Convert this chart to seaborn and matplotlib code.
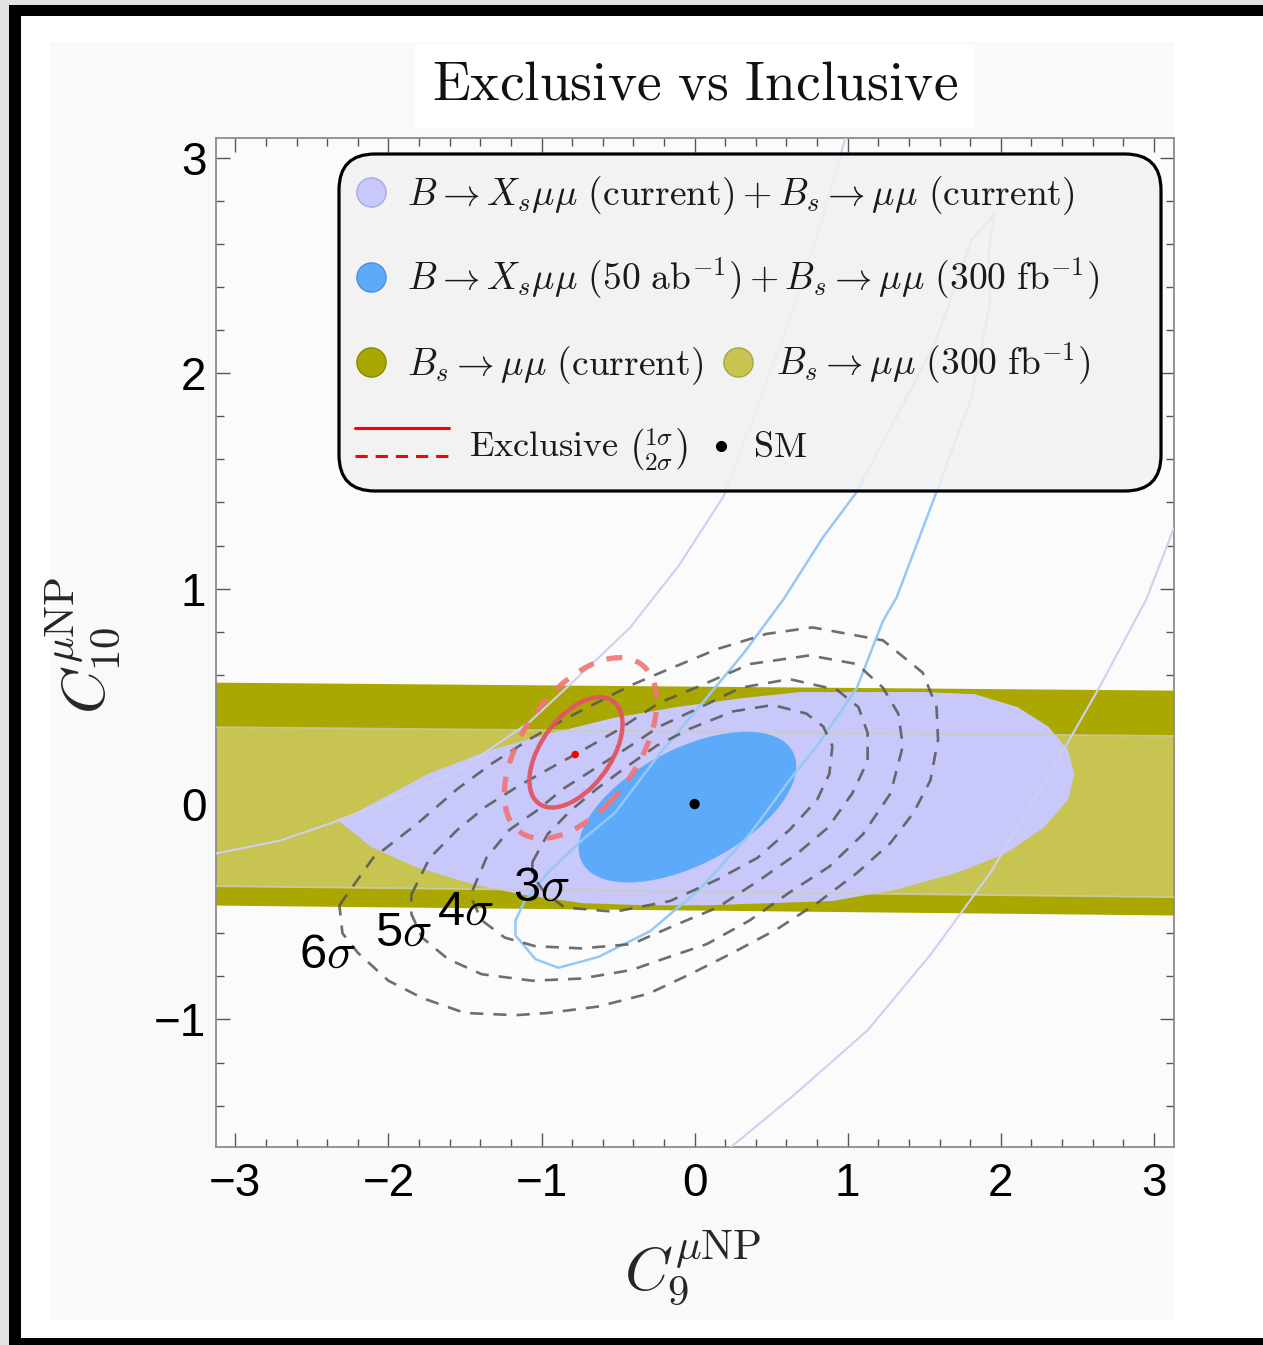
import matplotlib
matplotlib.use("Agg")
import matplotlib.pyplot as plt
import seaborn as sns
import pandas as pd
from matplotlib.patches import Ellipse, Rectangle, FancyBboxPatch
from matplotlib.ticker import MultipleLocator

# ------------------------------------------------------------------ data
x_span = [-3.13, 3.13]
bs_current_upper = [0.566, 0.529]
bs_current_lower = [-0.469, -0.515]
bs_300_upper = [0.357, 0.316]
bs_300_lower = [-0.381, -0.432]

incl_current_x = [-2.34, -2.11, -1.83, -1.46, -1.13, -0.73, -0.32, 0.08, 0.49, 0.90,
                  1.30, 1.71, 2.03, 2.28, 2.44, 2.48, 2.44, 2.31, 2.11, 1.83,
                  1.50, 0.90, 0.69, 0.29, -0.12, -0.53, -0.93, -1.34, -1.74, -2.03, -2.27]
incl_current_y = [-0.07, -0.20, -0.29, -0.37, -0.42, -0.46, -0.47, -0.47, -0.46, -0.45,
                  -0.40, -0.32, -0.23, -0.11, 0.02, 0.14, 0.25, 0.36, 0.45, 0.51,
                  0.52, 0.52, 0.52, 0.49, 0.45, 0.40, 0.33, 0.25, 0.14, 0.03, -0.06]

future_center = (-0.047, -0.014)
future_axes = (1.48, 0.564)
future_angle = 17.6

excl_best = (-0.78, 0.23)
excl_1s_center = (-0.775, 0.24)
excl_1s_axes = (0.696, 0.384)
excl_2s_center = (-0.745, 0.26)
excl_2s_axes = (1.14, 0.63)
excl_angle = 35.7

sm_point = (0.0, 0.0)

sig3_x = [-1.06, -0.96, -0.81, -0.64, -0.47, -0.25, -0.03, 0.25, 0.51, 0.73, 0.84,
          0.90, 0.88, 0.80, 0.62, 0.41, 0.15, -0.16, -0.52, -0.85, -0.98, -1.06]
sig3_y = [-0.27, -0.14, -0.03, 0.07, 0.16, 0.27, 0.35, 0.43, 0.46, 0.42, 0.36,
          0.27, 0.14, 0.02, -0.12, -0.25, -0.35, -0.45, -0.50, -0.48, -0.41, -0.33]
sig4_x = [-1.45, -1.36, -1.21, -1.03, -0.86, -0.64, -0.42, -0.23, 0.04, 0.30,
          0.62, 0.93, 1.07, 1.13, 1.13, 1.03, 0.87, 0.67, 0.43, 0.15,
          -0.12, -0.41, -0.74, -1.04, -1.24, -1.39, -1.45]
sig4_y = [-0.40, -0.25, -0.12, -0.03, 0.07, 0.17, 0.27, 0.36, 0.45, 0.54,
          0.58, 0.53, 0.45, 0.33, 0.20, 0.05, -0.11, -0.23, -0.35, -0.48,
          -0.56, -0.65, -0.67, -0.66, -0.62, -0.54, -0.45]
sig5_x = [-1.85, -1.73, -1.55, -1.36, -1.16, -0.96, -0.73, -0.51, -0.23, 0.04,
          0.36, 0.75, 1.06, 1.23, 1.33, 1.36, 1.28, 1.10, 0.88, 0.62,
          0.36, 0.08, -0.25, -0.41, -0.74, -1.06, -1.39, -1.61, -1.78, -1.85]
sig5_y = [-0.42, -0.25, -0.12, -0.01, 0.08, 0.16, 0.25, 0.34, 0.47, 0.55,
          0.65, 0.69, 0.65, 0.54, 0.42, 0.27, 0.05, -0.14, -0.29, -0.41,
          -0.54, -0.65, -0.73, -0.77, -0.81, -0.82, -0.79, -0.72, -0.62, -0.51]
sig6_x = [-2.32, -2.10, -1.81, -1.55, -1.32, -1.08, -0.86, -0.64, -0.42, -0.19,
          0.15, 0.47, 0.77, 1.23, 1.49, 1.58, 1.59, 1.54, 1.43, 1.28,
          1.06, 0.80, 0.54, 0.25, -0.03, -0.30, -0.63, -0.96, -1.17, -1.50,
          -1.78, -2.00, -2.20, -2.30]
sig6_y = [-0.47, -0.25, -0.09, 0.07, 0.19, 0.30, 0.39, 0.47, 0.55, 0.62,
          0.72, 0.79, 0.82, 0.76, 0.61, 0.45, 0.30, 0.11, -0.04, -0.18,
          -0.32, -0.46, -0.58, -0.69, -0.79, -0.88, -0.94, -0.97, -0.98, -0.97,
          -0.90, -0.82, -0.69, -0.60]
sigma_names = ["3σ", "4σ", "5σ", "6σ"]
sigma_label_text = [r"3$\sigma$", r"4$\sigma$", r"5$\sigma$", r"6$\sigma$"]
sigma_label_x = [-1.00, -1.50, -1.90, -2.40]
sigma_label_y = [-0.39, -0.50, -0.60, -0.70]

incl_cur_line_a_x = [-3.13, -2.71, -2.34, -1.92, -1.51, -1.08, -0.73, -0.42, -0.10,
                     0.19, 0.43, 0.67, 0.85, 0.98, 1.00]
incl_cur_line_a_y = [-0.23, -0.17, -0.08, 0.04, 0.17, 0.38, 0.61, 0.82, 1.11,
                     1.43, 1.88, 2.35, 2.76, 3.08, 3.15]
incl_cur_line_b_x = [0.19, 0.65, 1.13, 1.54, 1.93, 2.32, 2.65, 2.95, 3.13]
incl_cur_line_b_y = [-1.62, -1.35, -1.05, -0.70, -0.32, 0.14, 0.55, 0.95, 1.28]

incl_fut_line_x = [-1.17, -1.11, -0.96, -0.74, -0.52, -0.21, 0.04, 0.32, 0.58, 0.84,
                   1.05, 1.32, 1.57, 1.81, 1.96, 1.92, 1.93, 1.81, 1.57, 1.32,
                   1.23, 1.06, 0.80, 0.64, 0.36, 0.04, -0.29, -0.63, -0.89, -1.04,
                   -1.17, -1.17]
incl_fut_line_y = [-0.54, -0.45, -0.32, -0.17, -0.04, 0.25, 0.46, 0.70, 0.95, 1.24,
                   1.44, 1.80, 2.14, 2.62, 2.74, 2.56, 2.33, 1.89, 1.43, 0.96,
                   0.85, 0.54, 0.27, 0.13, -0.14, -0.39, -0.59, -0.71, -0.76, -0.72,
                   -0.61, -0.54]

x_ticks = [-3, -2, -1, 0, 1, 2, 3]
y_ticks = [-1, 0, 1, 2, 3]

legend_labels = [
    r"$B \to X_s\mu\mu\ (\mathrm{current}) + B_s \to \mu\mu\ (\mathrm{current})$",
    r"$B \to X_s\mu\mu\ (50\ \mathrm{ab}^{-1}) + B_s \to \mu\mu\ (300\ \mathrm{fb}^{-1})$",
    r"$B_s \to \mu\mu\ (\mathrm{current})$",
    r"$B_s \to \mu\mu\ (300\ \mathrm{fb}^{-1})$",
    r"$\mathrm{Exclusive}\ \binom{1\sigma}{2\sigma}$",
    r"$\mathrm{SM}$",
]
title_text = r"$\mathrm{Exclusive\ vs\ Inclusive}$"

# ------------------------------------------------------------------ style
sns.set_style("ticks")
plt.rcParams["font.family"] = ["Liberation Sans", "DejaVu Sans"]
plt.rcParams["mathtext.fontset"] = "cm"

C_DARK_OLIVE = "#aaa800"
C_LIGHT_OLIVE = "#c7c452"
C_LAVENDER = "#c8c8fa"
C_BLUE = "#5eaafa"

W, H = 1263, 1345
fig = plt.figure(figsize=(W / 100, H / 100), dpi=100)
fig.patch.set_facecolor("white")


def frac_rect(x0, y0, x1, y1):
    return (x0 / W, 1 - y1 / H, (x1 - x0) / W, (y1 - y0) / H)


for box, col in [((0, 0, W, 5), "#e2e2e2"), ((0, 0, 9, H), "#e2e2e2"),
                 ((9, 5, W, 16), "black"), ((9, 5, 21, H), "black"),
                 ((9, 1338, W, H), "black"),
                 ((50, 42, 1174, 1320), "#f9f9f9"),
                 ((415, 45, 975, 128), "white")]:
    l, b, w, h = frac_rect(*box)
    fig.add_artist(Rectangle((l, b), w, h, transform=fig.transFigure,
                             facecolor=col, edgecolor="none", zorder=-10))

ax = fig.add_axes(frac_rect(216, 138, 1174, 1147))
ax.set_facecolor("#fbfbfb")

# bands
ax.fill_between(x_span, bs_current_lower, bs_current_upper, color=C_DARK_OLIVE, lw=0, zorder=1)
ax.fill_between(x_span, bs_300_lower, bs_300_upper, color=C_LIGHT_OLIVE, lw=0, zorder=2)
# inclusive current region
ax.fill(incl_current_x, incl_current_y, color=C_LAVENDER, lw=0, zorder=3)
for yy in (bs_300_upper, bs_300_lower):
    ax.plot(x_span, yy, color="#cdcdb0", lw=1.3, alpha=0.8, zorder=3.5)
# inclusive future ellipse
ax.add_patch(Ellipse(future_center, future_axes[0], future_axes[1], angle=future_angle,
                     facecolor=C_BLUE, edgecolor="none", zorder=4))

# faint contour outlines
for lx, ly, col, lw in [(incl_cur_line_a_x, incl_cur_line_a_y, "#cfcff3", 1.5),
                        (incl_cur_line_b_x, incl_cur_line_b_y, "#cfcff3", 1.5),
                        (incl_fut_line_x, incl_fut_line_y, "#95c8f5", 1.8)]:
    sns.lineplot(x=lx, y=ly, sort=False, estimator=None, color=col, lw=lw,
                 ax=ax, zorder=5, legend=False)

# sigma contours
frames = []
for name, xs, ys in zip(sigma_names, [sig3_x, sig4_x, sig5_x, sig6_x],
                        [sig3_y, sig4_y, sig5_y, sig6_y]):
    xs_c = list(xs) + [xs[0]]
    ys_c = list(ys) + [ys[0]]
    frames.append(pd.DataFrame({"x": xs_c, "y": ys_c, "level": name,
                                "order": range(len(xs_c))}))
contours = pd.concat(frames, ignore_index=True)
sns.lineplot(data=contours, x="x", y="y", units="level", estimator=None, sort=False,
             color="#555555", lw=1.9, alpha=0.85, linestyle=(0, (5, 3.8)),
             ax=ax, zorder=6, legend=False)

# exclusive ellipses
ax.add_patch(Ellipse(excl_2s_center, excl_2s_axes[0], excl_2s_axes[1], angle=excl_angle,
                     fill=False, edgecolor="#f07575", lw=3.8, ls=(0, (3.0, 2.6)),
                     alpha=0.9, zorder=7))
ax.add_patch(Ellipse(excl_1s_center, excl_1s_axes[0], excl_1s_axes[1], angle=excl_angle,
                     fill=False, edgecolor="#e25462", lw=3.2, alpha=0.95, zorder=7))

sns.scatterplot(x=[excl_best[0]], y=[excl_best[1]], color="red", s=30,
                edgecolor="none", ax=ax, zorder=8, legend=False)
sns.scatterplot(x=[sm_point[0]], y=[sm_point[1]], color="black", s=55,
                edgecolor="none", ax=ax, zorder=8, legend=False)

for t, tx, ty in zip(sigma_label_text, sigma_label_x, sigma_label_y):
    ax.text(tx, ty, t, fontsize=35, ha="center", va="center", color="black", zorder=9)

# axes cosmetics
ax.set_xlim(-3.126, 3.131)
ax.set_ylim(-1.592, 3.092)
ax.set_xticks(x_ticks)
ax.set_yticks(y_ticks)
ax.xaxis.set_minor_locator(MultipleLocator(0.2))
ax.yaxis.set_minor_locator(MultipleLocator(0.2))
ax.tick_params(which="both", direction="in", top=True, right=True,
               colors="#555555", labelcolor="black", width=1.0)
ax.tick_params(which="major", length=10, labelsize=33)
ax.tick_params(which="minor", length=5.5)
ax.tick_params(axis="x", which="major", pad=11)
ax.tick_params(axis="y", which="major", pad=7)
for s in ax.spines.values():
    s.set_color("#8c8c8c")
    s.set_linewidth(1.3)

ax.set_xlabel(r"$C_9^{\mu\mathrm{NP}}$", fontsize=44)
ax.xaxis.set_label_coords(0.498, -0.080)
ax.set_ylabel(r"$C_{10}^{\mu\mathrm{NP}}$", fontsize=44)
ax.yaxis.set_label_coords(-0.097, 0.497)

fig.text(695 / W, 1 - 86 / H, title_text, fontsize=40, ha="center", va="center",
         color="#111111")

# ------------------------------------------------------------------ legend
lax = fig.add_axes(frac_rect(330, 145, 1170, 500))
lax.set_xlim(330, 1170)
lax.set_ylim(500, 145)
lax.axis("off")
lax.set_zorder(5)
lax.add_patch(FancyBboxPatch((339, 154), 822, 337,
                             boxstyle="round,pad=0,rounding_size=36",
                             facecolor=(0.945, 0.945, 0.945, 0.88),
                             edgecolor="black", lw=2.3, clip_on=False))
marker_specs = [(371, 192, C_LAVENDER, "#a9a9dd"), (371, 277, C_BLUE, "#4a90dd"),
                (371, 362, C_DARK_OLIVE, "#8a8800"), (738, 362, C_LIGHT_OLIVE, "#a8a540")]
for mx, my, fc, ec in marker_specs:
    lax.plot([mx], [my], "o", ms=21, mfc=fc, mec=ec, mew=1.0, clip_on=False)
lax.plot([355, 449], [428, 428], color="red", lw=2.2)
lax.plot([355, 449], [456, 456], color="red", lw=2.2, ls=(0, (4, 2.6)))
lax.plot([721], [446], "o", ms=7, color="black")
text_pos = [(407, 205), (407, 290), (407, 375), (776, 375), (469, 457), (753, 457)]
text_size = [27, 27, 27, 27, 26, 26]
for (tx, ty), lab, fs in zip(text_pos, legend_labels, text_size):
    lax.text(tx, ty, lab, fontsize=fs, ha="left", va="baseline", color="#1a1a1a")

fig.savefig("out.png", dpi=100, facecolor=fig.get_facecolor())
